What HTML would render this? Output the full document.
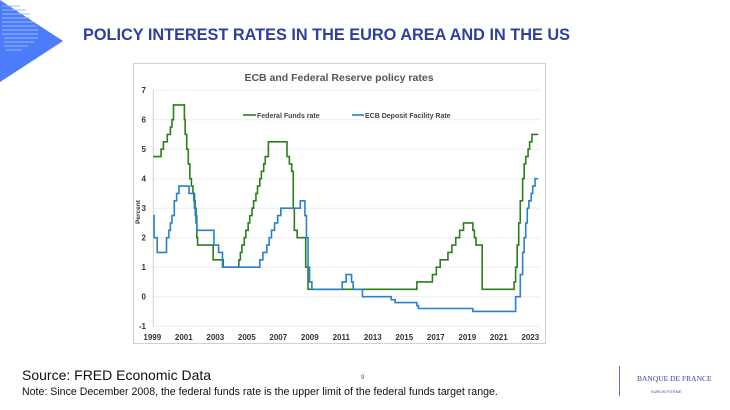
<!DOCTYPE html>
<html><head><meta charset="utf-8"><style>
html,body{margin:0;padding:0;background:#fff;}
body{width:730px;height:410px;position:relative;overflow:hidden;font-family:"Liberation Sans",sans-serif;}
.abs{position:absolute;white-space:nowrap;}
</style></head><body>
<svg class="abs" style="left:0;top:0" width="70" height="85">
<polygon points="0,0 63,41 0,82" fill="#4d7cfb"/>
<g stroke="#9db8ff" stroke-width="1">
<line x1="2" y1="6" x2="20" y2="6"/><line x1="2" y1="10" x2="26" y2="10"/><line x1="2" y1="14" x2="30" y2="14"/><line x1="2" y1="18" x2="30" y2="18"/><line x1="2" y1="22" x2="34" y2="22"/><line x1="2" y1="26" x2="36" y2="26"/><line x1="2" y1="30" x2="38" y2="30"/><line x1="2" y1="34" x2="38" y2="34"/><line x1="4" y1="38" x2="38" y2="38"/><line x1="4" y1="42" x2="34" y2="42"/><line x1="4" y1="46" x2="28" y2="46"/><line x1="6" y1="50" x2="22" y2="50"/>
</g></svg>
<div class="abs" style="left:83px;top:26px;font-size:16.3px;font-weight:bold;color:#2e3f9e;">POLICY INTEREST RATES IN THE EURO AREA AND IN THE US</div>
<svg class="abs" style="left:0;top:0" width="730" height="410" id="chart"></svg>
<div class="abs" style="left:22px;top:367px;font-size:14px;color:#111;">Source: FRED Economic Data</div>
<div class="abs" style="left:22px;top:386px;font-size:10.6px;color:#111;">Note: Since December 2008, the federal funds rate is the upper limit of the federal funds target range.</div>
<div class="abs" style="left:361px;top:375px;font-size:6px;color:#4050a0;">9</div>
<div class="abs" style="left:619px;top:366px;width:1px;height:30px;background:#6070b0;"></div>
<div class="abs" style="left:637px;top:374px;font-size:7.5px;color:#3b4a9a;font-family:'Liberation Serif',serif;">BANQUE DE FRANCE</div>
<div class="abs" style="left:651px;top:389px;font-size:4px;color:#3b4a9a;">EUROSYSTÈME</div>
<script>
const yTicks=[-1,0,1,2,3,4,5,6,7];
const xTickYears=[1999,2001,2003,2005,2007,2009,2011,2013,2015,2017,2019,2021,2023];
const fedYears=[1999,1999.5,1999.65,1999.9,2000.1,2000.2,2000.3,2001.0,2001.05,2001.15,2001.25,2001.35,2001.45,2001.55,2001.65,2001.75,2001.8,2001.85,2001.95,2002.85,2003.5,2004.5,2004.6,2004.7,2004.85,2004.95,2005.1,2005.2,2005.35,2005.45,2005.6,2005.7,2005.85,2005.95,2006.1,2006.2,2006.4,2007.6,2007.75,2007.9,2008.0,2008.07,2008.25,2008.8,2008.95,2015.95,2016.95,2017.2,2017.45,2017.95,2018.2,2018.45,2018.7,2018.95,2019.55,2019.65,2019.75,2020.15,2022.2,2022.3,2022.4,2022.5,2022.6,2022.75,2022.85,2022.95,2023.1,2023.2,2023.35,2023.55,2023.75];
const fedRates=[4.75,5.0,5.25,5.5,5.75,6.0,6.5,6.0,5.5,5.0,4.5,4.0,3.75,3.5,3.0,2.5,2.0,1.75,1.75,1.25,1.0,1.25,1.5,1.75,2.0,2.25,2.5,2.75,3.0,3.25,3.5,3.75,4.0,4.25,4.5,4.75,5.25,4.75,4.5,4.25,3.0,2.25,2.0,1.0,0.25,0.5,0.75,1.0,1.25,1.5,1.75,2.0,2.25,2.5,2.25,2.0,1.75,0.25,0.5,1.0,1.75,2.5,3.25,4.0,4.5,4.75,5.0,5.25,5.5,5.5,5.5];
const ecbYears=[1999,1999.05,1999.25,1999.85,2000.0,2000.1,2000.2,2000.35,2000.5,2000.65,2001.3,2001.6,2001.7,2001.8,2001.9,2002.9,2003.2,2003.45,2005.85,2006.05,2006.3,2006.45,2006.6,2006.8,2007.0,2007.2,2008.45,2008.75,2008.85,2008.95,2009.05,2009.2,2009.3,2011.15,2011.4,2011.75,2011.85,2012.45,2014.3,2014.55,2015.95,2016.05,2019.55,2022.3,2022.6,2022.75,2022.85,2022.95,2023.05,2023.15,2023.3,2023.4,2023.55,2023.65,2023.75];
const ecbRates=[2.75,2.0,1.5,2.0,2.25,2.5,2.75,3.25,3.5,3.75,3.5,3.25,2.75,2.25,2.25,1.75,1.5,1.0,1.25,1.5,1.75,2.0,2.25,2.5,2.75,3.0,3.25,2.75,2.0,1.0,0.5,0.25,0.25,0.5,0.75,0.5,0.25,0.0,-0.1,-0.2,-0.3,-0.4,-0.5,0.0,0.75,1.5,2.0,2.5,3.0,3.25,3.5,3.75,4.0,4.0,4.0];
const NS="http://www.w3.org/2000/svg";
const svg=document.getElementById('chart');
const X=y=>153.3+(y-1999)*15.55;
const Y=v=>296.7-v*29.5;
function mk(tag,attrs,parent){const e=document.createElementNS(NS,tag);for(const k in attrs)e.setAttribute(k,attrs[k]);(parent||svg).appendChild(e);return e;}
const frame=mk('rect',{x:133.5,y:63.5,width:412,height:280,fill:'#fff',stroke:'#d0d0d0'});


const title=mk('text',{x:339,y:81,'text-anchor':'middle','font-size':'10.5','font-weight':'bold',fill:'#555','font-family':'Liberation Sans, sans-serif'});
title.textContent='ECB and Federal Reserve policy rates';


yTicks.forEach(t=>{
  const g=mk('line',{x1:153,x2:540,y1:Y(t),y2:Y(t),stroke:'#eeeeee','stroke-width':1});
  
  
  const l=mk('text',{x:146,y:Y(t)+3,'text-anchor':'end','font-size':'8',fill:'#333','font-family':'Liberation Sans, sans-serif','font-weight':'bold'});
  l.textContent=t;
  
  
});
const ax=mk('line',{x1:153.3,x2:153.3,y1:Y(7),y2:Y(-1),stroke:'#d0d0d0'});


xTickYears.forEach((t,i)=>{
  const l=mk('text',{x:X(t)-1+i*0.4,y:340,'text-anchor':'middle','font-size':'8',fill:'#333','font-family':'Liberation Sans, sans-serif','font-weight':'bold'});
  l.textContent=t;
  
  
});
const yt=mk('text',{x:0,y:0,transform:'translate(140,212) rotate(-90)','text-anchor':'middle','font-size':'6.5','font-weight':'bold',fill:'#333','font-family':'Liberation Sans, sans-serif'});
yt.textContent='Percent';


function stepPath(xs,vs){let d='M'+X(xs[0])+','+Y(vs[0]);for(let i=1;i<xs.length;i++){d+=' H'+X(xs[i])+' V'+Y(vs[i]);}return d;}
const fed=mk('path',{d:stepPath(fedYears,fedRates),fill:'none',stroke:'#2e7d1e','stroke-width':1.6});


const ecb=mk('path',{d:stepPath(ecbYears,ecbRates),fill:'none',stroke:'#2b7fd0','stroke-width':1.6});


const l1=mk('line',{x1:243,x2:256,y1:115,y2:115,stroke:'#2e7d1e','stroke-width':1.6});


const t1=mk('text',{x:257,y:118,'font-size':'7','font-weight':'bold',fill:'#444','font-family':'Liberation Sans, sans-serif'});
t1.textContent='Federal Funds rate';


const l2=mk('line',{x1:352,x2:364,y1:115,y2:115,stroke:'#2b7fd0','stroke-width':1.6});


const t2=mk('text',{x:365,y:118,'font-size':'7','font-weight':'bold',fill:'#444','font-family':'Liberation Sans, sans-serif'});
t2.textContent='ECB Deposit Facility Rate';


</script>
</body></html>
